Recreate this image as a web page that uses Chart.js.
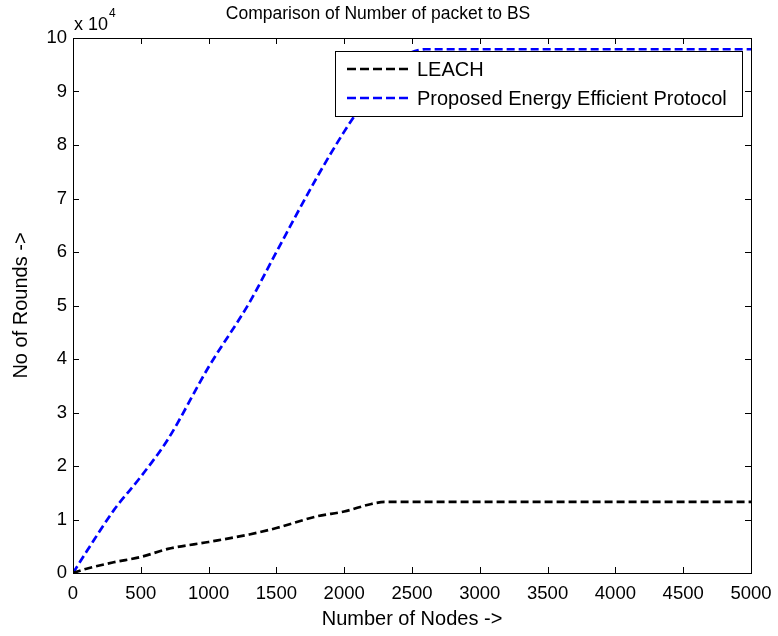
<!DOCTYPE html>
<html>
<head>
<meta charset="utf-8">
<script src="https://cdn.jsdelivr.net/npm/chart.js@4"></script>
<style>
    html, body { margin: 0; padding: 0; background: #fff; }
    #wrap { width: 778px; height: 636px; }
</style>
</head>
<body>
<div id="wrap"><canvas id="packetChart"></canvas></div>
<script>
// number of nodes on the x axis
const nodes = [0, 100, 300, 500, 700, 1000, 1300, 1500, 1800, 2000, 2200, 2300, 2400, 2600, 3000, 4000, 5000];
// rounds for each protocol
const leachRounds = [0, 800, 2000, 3000, 4500, 5800, 7200, 8400, 10600, 11500, 12900, 13300, 13300, 13300, 13300, 13300, 13300];
const proposedRounds = [0, 4000, 11700, 18000, 25000, 38500, 50500, 60000, 74000, 82500, 90000, 93500, 96000, 97900, 97900, 97900, 97900];
const seriesNames = ['LEACH', 'Proposed Energy Efficient Protocol'];
const seriesColors = ['#000000', '#0000ff'];

const fontFamily = "'Liberation Sans', Arial, sans-serif";
const dash = [8, 4];

// MATLAB style box with inward ticks, exponent label and inside legend
const matlabFrame = {
    id: 'matlabFrame',
    afterDatasetsDraw(chart) {
        const ctx = chart.ctx;
        const a = chart.chartArea;
        const xs = chart.scales.x;
        const ys = chart.scales.y;
        ctx.save();
        ctx.strokeStyle = '#000';
        ctx.lineWidth = 1;
        ctx.setLineDash([]);
        ctx.strokeRect(a.left + 0.5, a.top + 0.5, a.right - a.left, a.bottom - a.top);
        ctx.beginPath();
        xs.ticks.forEach(t => {
            const px = Math.round(xs.getPixelForValue(t.value)) + 0.5;
            ctx.moveTo(px, a.bottom); ctx.lineTo(px, a.bottom - 6);
            ctx.moveTo(px, a.top); ctx.lineTo(px, a.top + 6);
        });
        ys.ticks.forEach(t => {
            const py = Math.round(ys.getPixelForValue(t.value)) + 0.5;
            ctx.moveTo(a.left, py); ctx.lineTo(a.left + 6, py);
            ctx.moveTo(a.right, py); ctx.lineTo(a.right - 6, py);
        });
        ctx.stroke();

        // exponent label
        ctx.fillStyle = '#000';
        ctx.textBaseline = 'alphabetic';
        ctx.textAlign = 'left';
        ctx.font = '18px ' + fontFamily;
        ctx.fillText('x 10', a.left + 1, a.top - 8);
        const w = ctx.measureText('x 10').width;
        ctx.font = '12px ' + fontFamily;
        ctx.fillText('4', a.left + 2 + w, a.top - 21);

        // legend box
        const lx = 335, ly = 51, lw = 407, lh = 65;
        ctx.fillStyle = '#fff';
        ctx.fillRect(lx, ly, lw, lh);
        ctx.strokeRect(lx + 0.5, ly + 0.5, lw, lh);
        ctx.font = '20px ' + fontFamily;
        ctx.textBaseline = 'middle';
        seriesNames.forEach((name, i) => {
            const yy = ly + 18 + i * 29;
            ctx.strokeStyle = seriesColors[i];
            ctx.lineWidth = 2.5;
            ctx.setLineDash([9, 4]);
            ctx.beginPath();
            ctx.moveTo(lx + 12, yy); ctx.lineTo(lx + 73, yy);
            ctx.stroke();
            ctx.fillStyle = '#000';
            ctx.fillText(name, lx + 82, yy + 1);
        });
        ctx.restore();
    }
};

const ctx = document.getElementById('packetChart').getContext('2d');
const packetChart = new Chart(ctx, {
    type: 'line',
    data: {
        labels: nodes,
        datasets: [
            {
                label: seriesNames[0],
                data: nodes.map((n, i) => ({ x: n, y: leachRounds[i] })),
                borderColor: seriesColors[0],
                borderWidth: 2.7,
                borderDash: dash,
                pointRadius: 0,
                cubicInterpolationMode: 'monotone'
            },
            {
                label: seriesNames[1],
                data: nodes.map((n, i) => ({ x: n, y: proposedRounds[i] })),
                borderColor: seriesColors[1],
                borderWidth: 2.7,
                borderDash: dash,
                pointRadius: 0,
                cubicInterpolationMode: 'monotone'
            }
        ]
    },
    options: {
        responsive: true,
        maintainAspectRatio: false,
        animation: false,
        layout: { padding: { right: 27, left: 5, bottom: 0 } },
        plugins: {
            legend: { display: false },
            tooltip: { enabled: false },
            title: {
                display: true,
                text: 'Comparison of Number of packet to BS',
                color: '#000',
                font: { family: fontFamily, size: 17.5, weight: 'normal' },
                padding: { top: 4, bottom: 13 }
            }
        },
        scales: {
            x: {
                type: 'linear',
                min: 0,
                max: 5000,
                ticks: { stepSize: 500, color: '#000', padding: 10, maxRotation: 0,
                    font: { family: fontFamily, size: 18.5 },
                    callback: v => String(v) },
                grid: { display: false, drawTicks: false },
                border: { display: false },
                title: { display: true, text: 'Number of Nodes ->', color: '#000',
                    font: { family: fontFamily, size: 20 }, padding: { top: 4, bottom: 5 } },
                afterFit(scale) {
                    scale.height = 63;
                    scale.paddingLeft = 0;
                    scale.paddingRight = 0;
                }
            },
            y: {
                min: 0,
                max: 100000,
                ticks: { stepSize: 10000, color: '#000', padding: 6,
                    font: { family: fontFamily, size: 18.5 },
                    callback: v => String(v / 10000) },
                grid: { display: false, drawTicks: false },
                border: { display: false },
                title: { display: true, text: 'No of Rounds ->', color: '#000',
                    font: { family: fontFamily, size: 20 } },
                afterFit(scale) { scale.width = 68; }
            }
        }
    },
    plugins: [matlabFrame]
});
</script>
</body>
</html>
